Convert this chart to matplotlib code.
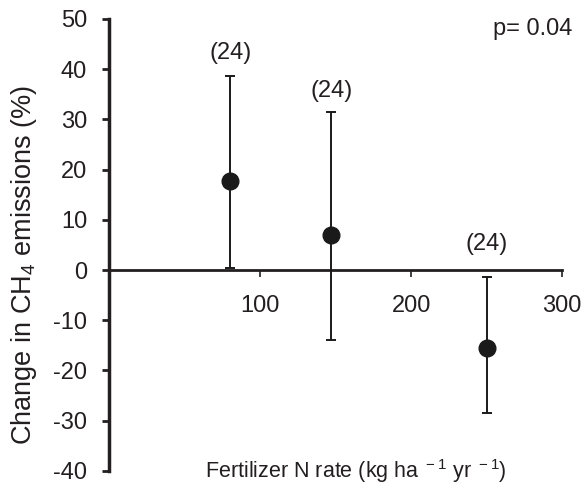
import matplotlib
matplotlib.use("Agg")
import matplotlib.pyplot as plt

# Data
n_rate = [80, 147, 250]
change = [17.8, 7.0, -15.5]
lower = [0.5, -14.0, -28.5]
upper = [38.7, 31.4, -1.4]
n_obs = ["(24)", "(24)", "(24)"]
label_y = [43.3, 35.7, 5.1]

plt.rcParams['font.family'] = ['Liberation Sans', 'DejaVu Sans']
plt.rcParams['mathtext.default'] = 'regular'
plt.rcParams['axes.unicode_minus'] = False

fig = plt.figure(figsize=(5.85, 4.87), dpi=100)
ax = fig.add_axes([0.187, 0.033, 0.774, 0.928])

yerr = [[c - l for c, l in zip(change, lower)], [u - c for c, u in zip(change, upper)]]
ax.errorbar(n_rate, change, yerr=yerr, fmt='o', color='#1a1a1a', ms=12,
            elinewidth=1.4, capsize=3.6, capthick=1.4, zorder=3)

for x, y, t in zip(n_rate, label_y, n_obs):
    ax.text(x, y, t, ha='center', va='center', fontsize=17, color='#231f20')

ax.text(307, 46.9, "p= 0.04", ha='right', va='baseline', fontsize=17, color='#231f20')

ax.set_xlim(0, 300)
ax.set_ylim(-40, 50)
ax.set_yticks(range(-40, 51, 10))
ax.set_xticks([100, 200, 300])

ax.spines['top'].set_visible(False)
ax.spines['right'].set_visible(False)
ax.spines['bottom'].set_position(('data', 0))
ax.spines['left'].set_linewidth(2.5)
ax.spines['bottom'].set_linewidth(2)
ax.spines['left'].set_color('#231f20')
ax.spines['bottom'].set_color('#231f20')

ax.tick_params(axis='y', length=5, width=2, labelsize=17, colors='#231f20', pad=11)
ax.tick_params(axis='x', length=5, width=1.2, labelsize=17, colors='#231f20', pad=13)

fig.text(24 / 585, 0.455, "Change in CH$_4$ emissions (%)", rotation=90, ha='center',
         va='center', fontsize=19.5, color='#231f20')
ax.text(163.6, -41.5, "Fertilizer N rate (kg ha$^{\\ -1}$ yr$^{\\ -1}$)", ha='center',
        va='baseline', fontsize=15.5, color='#231f20', clip_on=False)

plt.savefig('out.png', dpi=100)
